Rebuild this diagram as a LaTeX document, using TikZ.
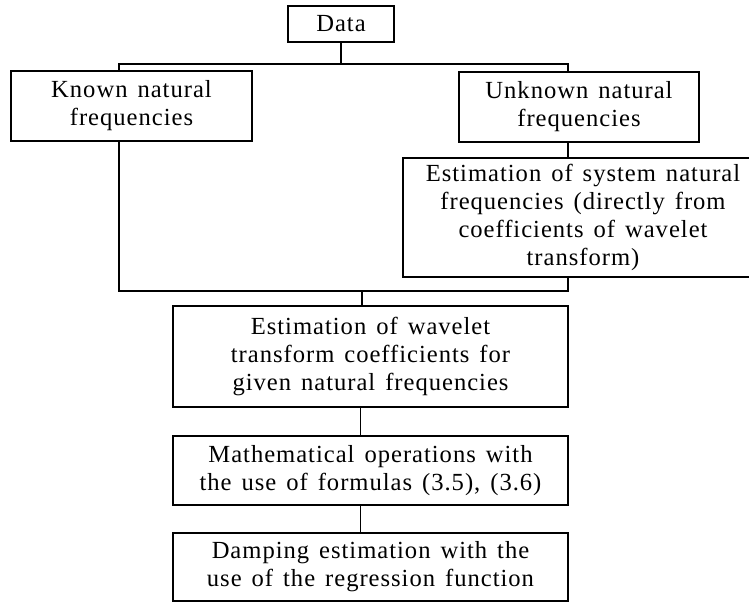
\documentclass[tikz,border=0pt]{standalone}
\usepackage{fontspec}
\setmainfont{Liberation Serif}[LetterSpace=4,WordSpace=1.4]
\begin{document}
\begin{tikzpicture}[
    box/.style={draw, line width=1pt, align=center, inner sep=0pt,
      font=\fontsize{14}{16}\selectfont},
    link/.style={line width=1pt}
  ]
  \useasboundingbox (0,0) rectangle (14.98,12.06);
  % top row
  \node[box, minimum width=2.12cm, minimum height=0.72cm] (data) at (6.82,11.58) {Data};
  \node[box, minimum width=4.82cm, minimum height=1.40cm] (known) at (2.63,9.94)
    {Known natural\\frequencies};
  \node[box, minimum width=4.80cm, minimum height=1.40cm] (unknown) at (11.58,9.92)
    {Unknown natural\\frequencies};
  \node[box, minimum width=7.20cm, minimum height=2.38cm] (estsys) at (11.66,7.71)
    {Estimation of system natural\\frequencies (directly from\\coefficients of wavelet\\transform)};
  % middle column
  \node[box, minimum width=7.90cm, minimum height=2.02cm] (wavelet) at (7.41,4.93)
    {Estimation of wavelet\\transform coefficients for\\given natural frequencies};
  \node[box, minimum width=7.90cm, minimum height=1.38cm] (mathops) at (7.41,2.65)
    {Mathematical operations with\\the use of formulas (3.5), (3.6)};
  \node[box, minimum width=7.90cm, minimum height=1.36cm] (damping) at (7.41,0.72)
    {Damping estimation with the\\use of the regression function};
  % fork under data
  \coordinate (fork) at ([yshift=-0.42cm]data.south);
  \draw[link] (data.south) -- (fork);
  \draw[link] ([xshift=-0.25cm]known.north) |- (fork) -| ([xshift=-0.22cm]unknown.north);
  \draw[link] ([xshift=-0.22cm]unknown.south) -- ([xshift=-0.22cm]unknown.south |- estsys.north);
  % join above wavelet
  \coordinate (join) at ([xshift=-0.17cm,yshift=0.28cm]wavelet.north);
  \draw[link] ([xshift=-0.25cm]known.south) |- (join) -| ([xshift=-0.22cm]unknown.south |- estsys.south);
  \draw[link] (join) -- (join |- wavelet.north);
  % chain
  \draw[link] ([xshift=-0.2cm]wavelet.south) -- ([xshift=-0.2cm]mathops.north);
  \draw[link] ([xshift=-0.2cm]mathops.south) -- ([xshift=-0.2cm]damping.north);
\end{tikzpicture}
\end{document}
